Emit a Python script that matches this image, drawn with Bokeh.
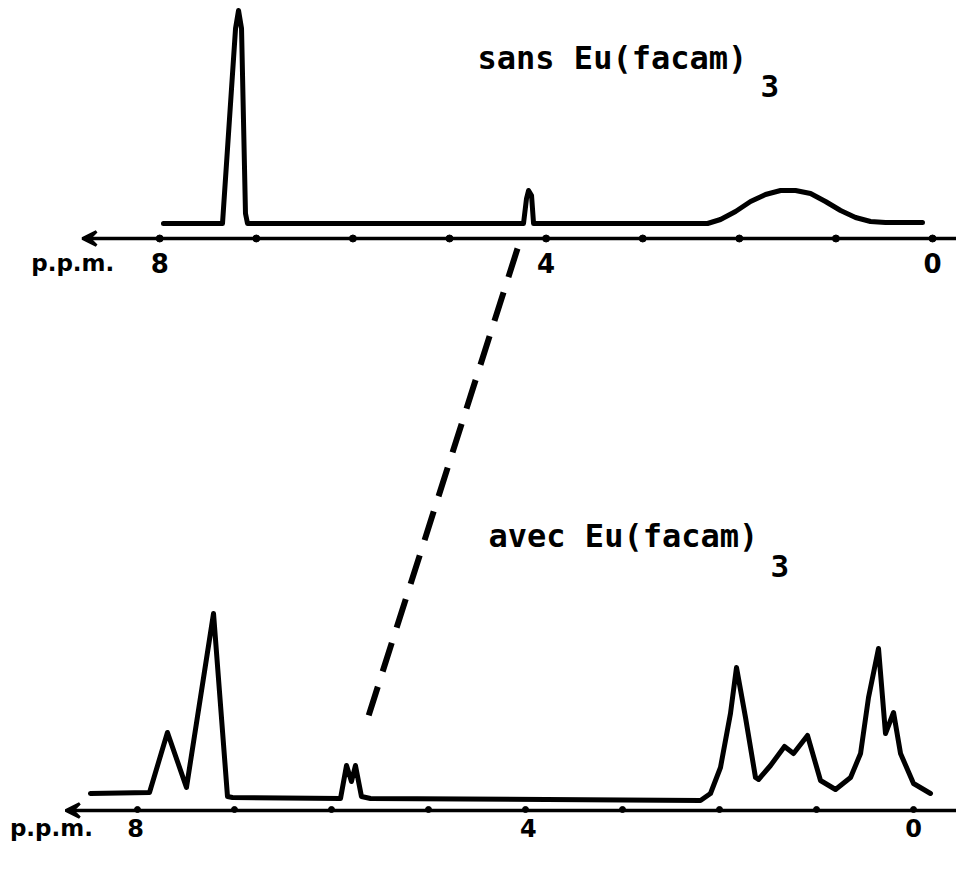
from bokeh.plotting import figure
from bokeh.models import Range1d, Arrow, VeeHead
from bokeh.core.properties import value
from bokeh.embed import file_html
from bokeh.resources import INLINE

# ---------------- data (ppm, intensity above baseline) ----------------
# spectrum without shift reagent ("sans Eu(facam)3")
top_ppm = [7.961, 7.350, 7.215, 7.184, 7.153, 7.112, 7.091, 4.234, 4.203, 4.182,
           4.151, 4.130, 2.329, 2.195, 2.039, 1.884, 1.729, 1.573, 1.418, 1.263,
           1.108, 0.952, 0.797, 0.642, 0.487, 0.104]
top_int = [0, 0, 195, 213, 195, 10, 0, 0, 25, 33,
           28, 0, 0, 4, 12, 22, 29, 33, 33, 30,
           22, 13, 6, 2, 1, 1]

# spectrum with shift reagent ("avec Eu(facam)3")
bot_ppm = [8.485, 7.876, 7.691, 7.495, 7.216, 7.072, 7.021, 5.907, 5.845, 5.794,
           5.753, 5.691, 5.598, 2.196, 2.093, 1.990, 1.887, 1.825, 1.732, 1.629,
           1.598, 1.474, 1.330, 1.237, 1.093, 0.959, 0.804, 0.649, 0.546, 0.464,
           0.361, 0.289, 0.206, 0.134, 0.000, -0.175]
bot_int = [4, 5, 65, 10, 184, 1, 0, -1, 32, 16,
           32, 1, -1, -3, 4, 30, 84, 130, 80, 20,
           18, 32, 51, 44, 62, 17, 8, 20, 44, 100,
           149, 64, 85, 44, 14, 4]

tick_ppm = [8, 7, 6, 5, 4, 3, 2, 1, 0]
label_ppm = [8, 4, 0]
label_txt = ["8", "4", "0"]

# correlation of the shifted signal (top ppm scale, top intensity scale)
corr_ppm = [4.296, 5.880]
corr_lvl = [-25, -505]

title_top = "sans Eu(facam)"
title_bot = "avec Eu(facam)"
sub_txt = "3"
unit_txt = "p.p.m."

# ---------------- figure ----------------
W, H = 956, 873
p = figure(width=W, height=H, output_backend="svg", toolbar_location=None,
           x_axis_type=None, y_axis_type=None,
           x_range=Range1d(9.648, -0.248), y_range=Range1d(-650, 223),
           min_border=0, min_border_left=0, min_border_right=0,
           min_border_top=0, min_border_bottom=0)
p.extra_x_ranges = {"bot": Range1d(9.412, -0.443)}
p.extra_y_ranges = {"bot": Range1d(-76, 797)}
p.grid.visible = False
p.outline_line_color = None
p.background_fill_color = "white"
p.border_fill_color = "white"

ink = "black"

# spectra
p.line(top_ppm, top_int, line_color=ink, line_width=5, line_join="round", line_cap="round")
p.line(bot_ppm, bot_int, line_color=ink, line_width=5, line_join="round", line_cap="round",
       x_range_name="bot", y_range_name="bot")

# axes with arrows
p.add_layout(Arrow(end=VeeHead(size=14, line_width=3, fill_color=ink, line_color=ink),
                   x_start=-0.311, y_start=-15, x_end=8.80, y_end=-15,
                   line_width=3.5, line_color=ink))
p.add_layout(Arrow(end=VeeHead(size=14, line_width=3, fill_color=ink, line_color=ink),
                   x_start=-0.60, y_start=-13, x_end=8.74, y_end=-13,
                   line_width=3.5, line_color=ink,
                   x_range_name="bot", y_range_name="bot"))

# tick dots
p.scatter(tick_ppm, [-15] * len(tick_ppm), size=7, color=ink)
p.scatter(tick_ppm, [-12] * len(tick_ppm), size=6, color=ink,
          x_range_name="bot", y_range_name="bot")

# tick labels
p.text(label_ppm, [-39] * 3, text=label_txt, text_align="center", text_baseline="middle",
       text_font=value("DejaVu Sans"), text_font_style="bold", text_font_size="26px",
       text_color=ink)
p.text([8.02, 3.97, 0.0], [-30] * 3, text=label_txt, text_align="center",
       text_baseline="middle", text_font=value("DejaVu Sans"), text_font_style="bold",
       text_font_size="24px", text_color=ink, x_range_name="bot", y_range_name="bot")

# unit labels
p.text([8.90], [-39], text=[unit_txt], text_align="center", text_baseline="alphabetic",
       text_font=value("DejaVu Sans"), text_font_style="bold", text_font_size="23px",
       text_color=ink)
p.text([8.887], [-30], text=[unit_txt], text_align="center", text_baseline="alphabetic",
       text_font=value("DejaVu Sans"), text_font_style="bold", text_font_size="23px",
       text_color=ink, x_range_name="bot", y_range_name="bot")

# correlation dashed line
p.line(corr_ppm, corr_lvl, line_color=ink, line_width=6, line_dash="30 16")

# titles
p.text([4.710], [166], text=[title_top], text_align="left", text_baseline="alphabetic",
       text_font=value("DejaVu Sans Mono"), text_font_style="bold", text_font_size="32px",
       text_color=ink)
p.text([1.780], [138], text=[sub_txt], text_align="left", text_baseline="alphabetic",
       text_font=value("DejaVu Sans Mono"), text_font_style="bold", text_font_size="31px",
       text_color=ink)
p.text([4.381], [262], text=[title_bot], text_align="left", text_baseline="alphabetic",
       text_font=value("DejaVu Sans Mono"), text_font_style="bold", text_font_size="32px",
       text_color=ink, x_range_name="bot", y_range_name="bot")
p.text([1.474], [232], text=[sub_txt], text_align="left", text_baseline="alphabetic",
       text_font=value("DejaVu Sans Mono"), text_font_style="bold", text_font_size="31px",
       text_color=ink, x_range_name="bot", y_range_name="bot")

open("out.html", "w").write(file_html(p, INLINE))
